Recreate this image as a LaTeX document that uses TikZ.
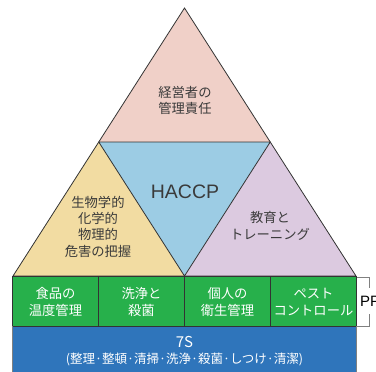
\documentclass[tikz,border=0pt]{standalone}
\usepackage{fontspec}
\setmainfont{Noto Sans CJK JP}
\newfontfamily\latinsans{Liberation Sans}
\definecolor{pinkc}{HTML}{F0D0C8}
\definecolor{yellowc}{HTML}{F2DCA2}
\definecolor{bluec}{HTML}{9CCCE4}
\definecolor{purplec}{HTML}{DCCAE0}
\definecolor{greenc}{HTML}{27B04B}
\definecolor{bandc}{HTML}{2F75BB}
\definecolor{txtc}{HTML}{3A3A3A}
\definecolor{linec}{HTML}{333333}
\begin{document}
\begin{tikzpicture}[x=1pt,y=-1pt,
  edge/.style={draw=linec,line width=0.8pt,line join=miter},
  jtext/.style={text=txtc,align=center,inner sep=0pt,font=\fontsize{13.3}{16.3}\selectfont},
  wtext/.style={text=white,align=center,inner sep=0pt,font=\fontsize{13.3}{17.3}\selectfont}]
\useasboundingbox (0,0) rectangle (376,372);
% corner coordinates
\coordinate (apex) at (184.5,8);
\coordinate (ml) at (98.75,142);
\coordinate (mr) at (270.25,142);
\coordinate (bl) at (13,276);
\coordinate (bc) at (184.5,276);
\coordinate (br) at (356,276);
% triangles
\fill[pinkc] (apex) -- (ml) -- (mr) -- cycle;
\fill[yellowc] (ml) -- (bl) -- (bc) -- cycle;
\fill[bluec] (ml) -- (mr) -- (bc) -- cycle;
\fill[purplec] (mr) -- (bc) -- (br) -- cycle;
\draw[edge] (apex) -- (bl) -- (br) -- cycle;
\draw[edge] (ml) -- (mr) -- (bc) -- cycle;
% bands
\draw[edge,fill=greenc] (12.5,276) rectangle (356,326);
\draw[draw=gray,line width=0.8pt,fill=bandc] (12.5,326) rectangle (356,380);
\draw[edge] (12.5,326) -- (356,326);
\draw[edge] (98.5,276) -- (98.5,326);
\draw[edge] (184.5,276) -- (184.5,326);
\draw[edge] (270.5,276) -- (270.5,326);
% PP bracket
\coordinate (pt) at (357,277);
\coordinate (pb) at (357,326);
\node[anchor=west,inner sep=0pt,font=\latinsans\fontsize{15}{15}\selectfont,text=black] (pp) at (360,301) {PP};
\draw[gray,line width=0.8pt] (pt) -- (369,277) -- (369,288);
\draw[gray,line width=0.8pt] (pb) -- (369,326) -- (369,314);
% texts
\node[jtext] (mgmt) at (185,100.5) {経営者の\\管理責任};
\node[text=txtc,inner sep=0pt,font=\latinsans\fontsize{19.5}{20}\selectfont] (haccp) at (185,192) {HACCP};
\node[jtext] (hazard) at (98,226.5) {生物学的\\化学的\\物理的\\危害の把握};
\node[jtext] (edu) at (270,226) {教育と\\トレーニング};
\node[wtext] (g1) at (55.5,302) {食品の\\温度管理};
\node[wtext] (g2) at (141.5,302) {洗浄と\\殺菌};
\node[wtext] (g3) at (227.5,302) {個人の\\衛生管理};
\node[wtext] (g4) at (313.5,302) {ペスト\\コントロール};
\node[text=white,inner sep=0pt,font=\fontsize{15}{15}\selectfont] (seven) at (184.5,342) {7S};
\node[text=white,inner sep=0pt,font=\fontsize{12.5}{12.5}\selectfont] (sevenlist) at (184.5,359) {(整理·整頓·清掃·洗浄·殺菌·しつけ·清潔)};
\end{tikzpicture}
\end{document}
